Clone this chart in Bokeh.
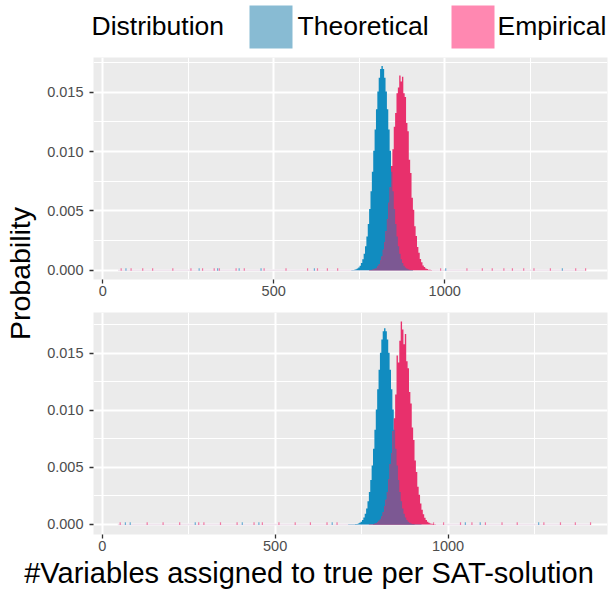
import numpy as np
from math import pi
from bokeh.plotting import figure
from bokeh.models import Range1d, FixedTicker, PrintfTickFormatter
from bokeh.layouts import column, row
from bokeh.embed import file_html
from bokeh.resources import INLINE
from bokeh.core.properties import value

# ---------------- data ----------------
bin_x = list(range(697, 969, 4))  # bin centres (68 bins of width 4)

theoretical = [
    0.0, 0.000001, 0.000001, 0.000002, 0.000003, 0.000004, 0.000006, 0.000009, 0.000015, 0.000025,
    0.000045, 0.00008, 0.000139, 0.000234, 0.000383, 0.000607, 0.000934, 0.001395, 0.002023, 0.002848,
    0.003892, 0.00516, 0.006644, 0.008304, 0.010074, 0.011861, 0.01356, 0.015047, 0.016208, 0.016946,
    0.0172, 0.016946, 0.016208, 0.015047, 0.01356, 0.011861, 0.010074, 0.008304, 0.006644, 0.00516,
    0.003892, 0.002848, 0.002023, 0.001395, 0.000934, 0.000607, 0.000383, 0.000234, 0.000139, 0.00008,
    0.000045, 0.000025, 0.000015, 0.000009, 0.000006, 0.000004, 0.000003, 0.000002, 0.000001, 0.000001,
    0.0, 0.0, 0.0, 0.0, 0.0, 0.0, 0.0, 0.0]

empirical_top = [0.0] * 16 + [
    0.0, 0.000001, 0.000002, 0.000003, 0.000007, 0.000012, 0.000022, 0.000043, 0.000070, 0.000128,
    0.000199, 0.000340, 0.000510, 0.000810, 0.001160, 0.001730, 0.002360, 0.003310, 0.004290, 0.005690,
    0.007000, 0.008780, 0.010200, 0.012080, 0.013250, 0.014900, 0.015400, 0.016400, 0.015900, 0.016300,
    0.014900, 0.014600, 0.012400, 0.011700, 0.009300, 0.008200, 0.006100, 0.005100, 0.003700, 0.002880,
    0.001960, 0.001470, 0.000940, 0.000670, 0.000400, 0.000270, 0.000150, 0.000100, 0.000050, 0.000035,
    0.000015, 0.000008]

empirical_bottom = [0.0] * 19 + [
    0.000006, 0.000012, 0.000022, 0.000039, 0.000068, 0.000115, 0.000189, 0.000330, 0.000474, 0.000690,
    0.001067, 0.001620, 0.002165, 0.002850, 0.003945, 0.005300, 0.006250, 0.008200, 0.009300, 0.011400,
    0.014800, 0.014200, 0.016100, 0.017800, 0.017100, 0.015800, 0.016700, 0.014300, 0.013700, 0.011600,
    0.010600, 0.008500, 0.007400, 0.005600, 0.004600, 0.003300, 0.002600, 0.001832, 0.001287, 0.000881,
    0.000587, 0.000380, 0.000240, 0.000148, 0.000088, 0.000051, 0.000029, 0.000016, 0.000008]

rug_top_emp = [54, 83, 117, 146, 205, 258, 292, 326, 341, 390, 414, 472, 536, 599, 628, 657, 687,
               988, 1065, 1110, 1139, 1173, 1198, 1231, 1261, 1309, 1383, 1412]
rug_top_theo = [68, 282, 336, 399, 463, 619, 1003, 1344]
rug_bot_emp = [52, 130, 176, 224, 279, 294, 342, 390, 439, 463, 511, 558, 602, 650, 679,
               958, 987, 1036, 1069, 1108, 1156, 1200, 1277, 1325, 1368, 1412]
rug_bot_theo = [67, 81, 269, 405, 453, 665, 1050, 1093, 1262]
support = [45, 1412]

x_ticks = [0, 500, 1000]
x_minor = [250, 750, 1250]
y_ticks = [0.0, 0.005, 0.010, 0.015]
y_minor = [0.0025, 0.0075, 0.0125, 0.0175]

legend_labels = ["Theoretical", "Empirical"]
legend_title = "Distribution"
x_title = "#Variables assigned to true per SAT-solution"
y_title = "Probability"

# ---------------- style ----------------
FONT = "Liberation Sans"
BLUE = "#118CC0"
PINK = "#E8306C"
PURPLE = "#7C5893"
KEY_BLUE = "#88BBD3"
KEY_PINK = "#FF88B1"
RUG_BLUE = "#6AAED3"
RUG_PINK = "#F07AA3"
PANEL_BG = "#EBEBEB"


def panel(emp, rug_e, rug_t, xr, yr, height, bottom_border, rug_h):
    p = figure(width=572, height=height, x_range=Range1d(*xr), y_range=Range1d(*yr),
               output_backend="svg", toolbar_location=None,
               min_border_left=51, min_border_right=7, min_border_top=0,
               min_border_bottom=bottom_border)
    p.background_fill_color = PANEL_BG
    p.border_fill_color = "white"
    p.outline_line_color = None

    xt = FixedTicker(ticks=x_ticks, minor_ticks=x_minor)
    yt = FixedTicker(ticks=y_ticks, minor_ticks=y_minor)
    p.xaxis.ticker = xt
    p.yaxis.ticker = yt
    p.xgrid.ticker = xt
    p.ygrid.ticker = yt
    p.yaxis.formatter = PrintfTickFormatter(format="%.3f")
    p.axis.axis_line_color = None
    p.axis.major_tick_line_color = "#333333"
    p.axis.major_tick_line_width = 1.3
    p.axis.major_tick_out = 4
    p.axis.major_tick_in = 0
    p.axis.minor_tick_line_color = None
    p.axis.major_label_text_font = FONT
    p.axis.major_label_text_font_size = "14.5px"
    p.axis.major_label_text_color = "#4D4D4D"
    p.xaxis.major_label_standoff = 2
    p.yaxis.major_label_standoff = 6
    p.grid.grid_line_color = "white"
    p.grid.grid_line_width = 2
    p.grid.minor_grid_line_color = "white"
    p.grid.minor_grid_line_width = 1

    # faint baseline of near-zero bars across the support
    p.segment(x0=[support[0]], y0=[0], x1=[support[1]], y1=[0],
              line_color="#F0E4EE", line_width=1.5)
    # rug-like tiny bars
    p.segment(x0=rug_e, x1=rug_e, y0=[-rug_h * 0.25] * len(rug_e), y1=[rug_h] * len(rug_e),
              line_color=RUG_PINK, line_width=1.2)
    p.segment(x0=rug_t, x1=rug_t, y0=[-rug_h * 0.25] * len(rug_t), y1=[rug_h] * len(rug_t),
              line_color=RUG_BLUE, line_width=1.2)

    theo = np.array(theoretical)
    empa = np.array(emp)
    p.varea_step(x=bin_x, y1=[0] * len(bin_x), y2=theoretical, step_mode="center",
                 fill_color=BLUE)
    p.varea_step(x=bin_x, y1=[0] * len(bin_x), y2=emp, step_mode="center",
                 fill_color=PINK)
    p.varea_step(x=bin_x, y1=[0] * len(bin_x), y2=list(np.minimum(theo, empa)),
                 step_mode="center", fill_color=PURPLE)
    return p


top = panel(empirical_top, rug_top_emp, rug_top_theo, (-26.9, 1476), (-0.00078, 0.01792),
            255, 33, 0.00017)
bottom = panel(empirical_bottom, rug_bot_emp, rug_bot_theo, (-25.2, 1461), (-0.000885, 0.01858),
               244, 22, 0.00018)


def blank(w, h, yr):
    f = figure(width=w, height=h, x_range=Range1d(0, w), y_range=Range1d(*yr),
               output_backend="svg", toolbar_location=None, x_axis_type=None,
               y_axis_type=None, min_border=0)
    f.outline_line_color = None
    f.grid.visible = False
    return f


# y-axis title
ylab = blank(42, 499, (0, 499))
ylab.text(x=[19], y=[283], text=[y_title], angle=pi / 2, text_align="center",
          text_baseline="alphabetic", text_font=value(FONT), text_font_size="28.5px",
          text_color="black")

# x-axis title
xlab = blank(614, 33, (33, 0))
xlab.text(x=[308.5], y=[16], text=[x_title], text_align="center",
          text_baseline="alphabetic", text_font=value(FONT), text_font_size="29px",
          text_color="black")

# legend
leg = blank(614, 57, (57, 0))
leg.quad(left=[249, 451], right=[292, 494], top=[5, 5], bottom=[48, 48],
         fill_color=[KEY_BLUE, KEY_PINK], line_color=None)
leg.text(x=[91, 297, 497], y=[25, 25, 25], text=[legend_title] + legend_labels,
         text_align="left", text_baseline="middle", text_font=value(FONT),
         text_font_size="26.5px", text_color="black")

layout = column(leg, row(ylab, column(top, bottom)), xlab)
open("out.html", "w").write(file_html(layout, INLINE))
